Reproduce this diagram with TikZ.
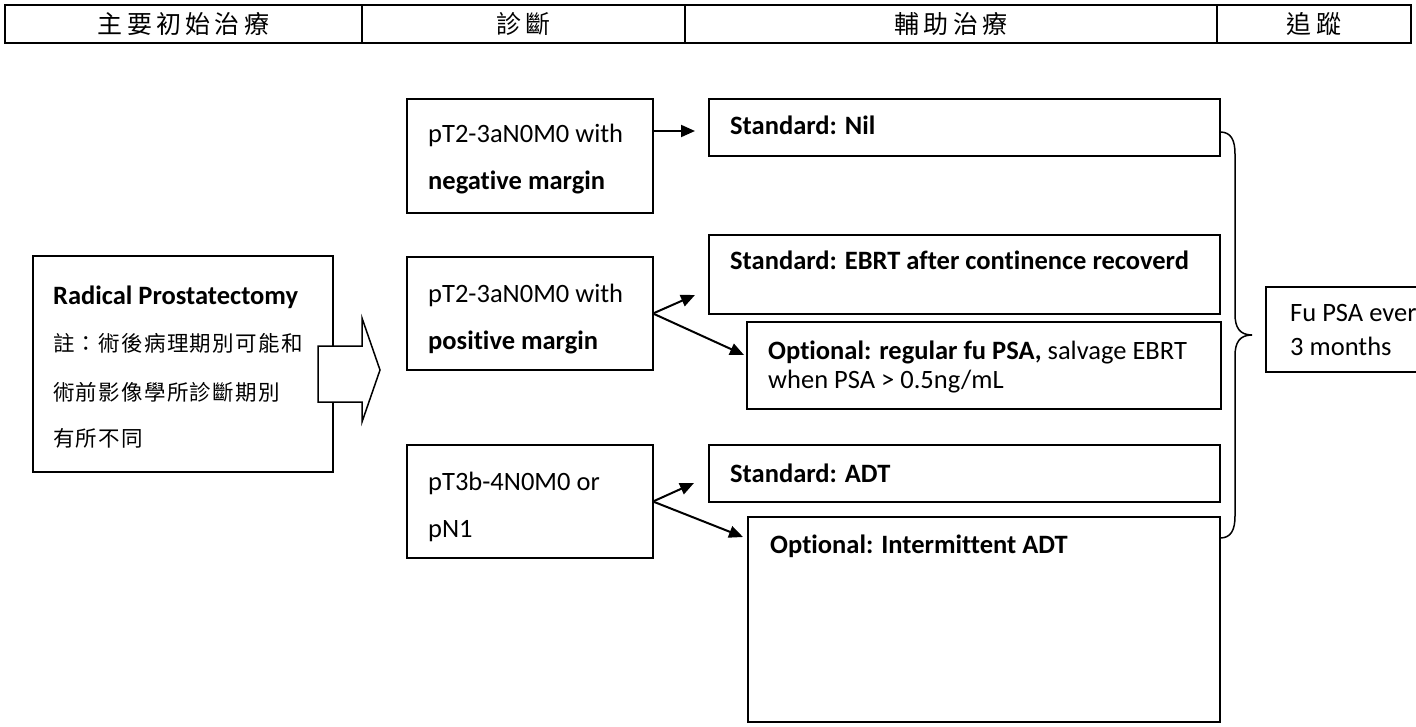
\documentclass[tikz,border=0pt]{standalone}
\usepackage{fontspec}
\setmainfont{Carlito}[Ligatures=NoCommon]
\newfontfamily\cjkH[LetterSpace=17]{Noto Sans CJK TC}
\newfontfamily\cjkB[LetterSpace=6]{Noto Sans CJK TC}
\usetikzlibrary{arrows.meta}
\begin{document}
\begin{tikzpicture}[x=1pt,y=-1pt,
  box/.style={draw,line width=1.5pt,inner sep=0pt,outer sep=0pt,anchor=north west},
  txt/.style={anchor=base west,inner sep=0pt,font=\fontsize{26.5}{31}\selectfont},
  btxt/.style={anchor=base west,inner sep=0pt,font=\fontsize{26.5}{31}\selectfont\bfseries},
  cjkb/.style={anchor=west,inner sep=0pt,font=\fontsize{21.5}{24}\cjkB},
  head/.style={box,font=\fontsize{25}{28}\cjkH},
  arr/.style={line width=2pt,-{Triangle[length=14pt,width=12pt]}},
  brace/.style={line width=1.5pt}
]
\useasboundingbox (0,0) rectangle (1416,727);
\fill[white] (0,0) rectangle (1416,727);
\clip (0,0) rectangle (1416,727);

% header
\node[head,minimum width=357pt,minimum height=38pt] (h1) at (5,5) {主要初始治療};
\node[head,minimum width=323pt,minimum height=38pt] (h2) at (362,5) {診斷};
\node[head,minimum width=532pt,minimum height=38pt] (h3) at (685,5) {輔助治療};
\node[head,minimum width=194pt,minimum height=38pt] (h4) at (1217,5) {追蹤};
\draw[line width=2.5pt] (h1.north west) -- (h4.north east);

% left box
\node[box,minimum width=300pt,minimum height=216pt] (L) at (33,256) {};
\node[btxt] (Lt1) at (53,305) {Radical Prostatectomy};
\node[cjkb] (Lt2) at (53,343) {註：術後病理期別可能和};
\node[cjkb] (Lt3) at (53,392) {術前影像學所診斷期別};
\node[cjkb] (Lt4) at (53,438.5) {有所不同};

% block arrow
\draw[line width=1.5pt,fill=white,line join=miter]
  (318,346) -- (362,346) -- (362,318) -- (380,370) -- (362,422) -- (362,402) -- (318,402) -- cycle;

% diagnosis boxes
\node[box,minimum width=246pt,minimum height=114pt] (D1) at (407,99) {};
\node[txt] (D1a) at (428,143) {pT2-3aN0M0 with};
\node[btxt] (D1b) at (428,190) {negative margin};
\node[box,minimum width=246pt,minimum height=113pt] (D2) at (407,257) {};
\node[txt] (D2a) at (428,303) {pT2-3aN0M0 with};
\node[btxt] (D2b) at (428,349) {positive margin};
\node[box,minimum width=246pt,minimum height=113pt] (D3) at (407,445) {};
\node[txt] (D3a) at (428,490) {pT3b-4N0M0 or};
\node[txt] (D3b) at (428,537) {pN1};

% adjuvant boxes
\node[box,minimum width=511pt,minimum height=57pt] (R1) at (709,99) {};
\node[btxt] (R1t) at (730,135) {Standard: Nil};
\node[box,minimum width=511pt,minimum height=79pt] (R2) at (709,235) {};
\node[btxt] (R2t) at (730,270) {Standard: EBRT after continence recoverd};
\node[box,minimum width=474pt,minimum height=87pt] (R3) at (747,322) {};
\node[txt] (R3a) at (768,359) {\textbf{Optional: regular fu PSA,} salvage EBRT};
\node[txt] (R3b) at (768,388) {when PSA > 0.5ng/mL};
\node[box,minimum width=511pt,minimum height=57pt] (R4) at (709,445) {};
\node[btxt] (R4t) at (730,482) {Standard: ADT};
\node[box,minimum width=472pt,minimum height=205pt] (R5) at (748,517) {};
\node[btxt] (R5t) at (770,553) {Optional: Intermittent ADT};

% follow-up box
\node[box,minimum width=180pt,minimum height=85pt] (F) at (1266,287) {};
\node[txt] (Fa) at (1290,322) {Fu PSA every};
\node[txt] (Fb) at (1290,355) {3 months};

% arrows
\coordinate (a1) at (695,131);
\coordinate (a2) at (695,295);
\coordinate (a3) at (744,355);
\coordinate (a4) at (694,483);
\coordinate (a5) at (743,537);
\draw[arr] (D1.east |- a1) -- (a1);
\draw[arr] (D2.east) -- (a2);
\draw[arr] (D2.east) -- (a3);
\draw[arr] (D3.east) -- (a4);
\draw[arr] (D3.east) -- (a5);

% brace
\coordinate (bt) at (1220,132);
\coordinate (bb) at (1220,538);
\coordinate (tip) at (1252,335);
\draw[brace] (bt) .. controls (1231,132) and (1235,140) .. (1235,154)
  -- (1235,314) .. controls (1235,328) and (1240,335) .. (tip)
  .. controls (1240,335) and (1235,342) .. (1235,356)
  -- (1235,516) .. controls (1235,530) and (1231,538) .. (bb);
\end{tikzpicture}
\end{document}
